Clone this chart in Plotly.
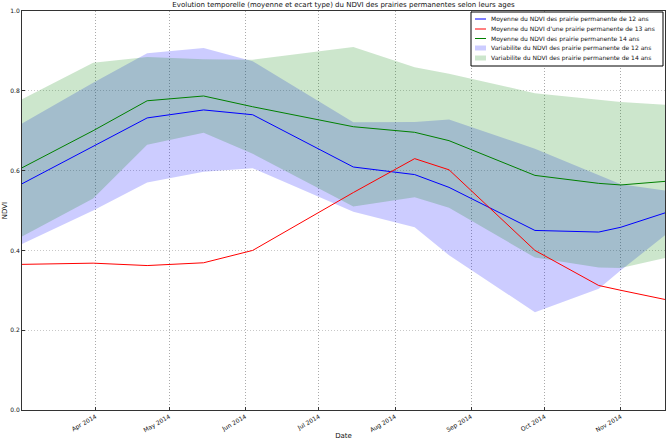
import plotly.graph_objects as go

# ---- data ----
dates = ["2014-03-02", "2014-03-31", "2014-04-22", "2014-05-15", "2014-06-04",
         "2014-07-15", "2014-08-09", "2014-08-23", "2014-09-27", "2014-10-23",
         "2014-11-01", "2014-11-19"]
mean_12 = [0.567, 0.660, 0.732, 0.752, 0.740, 0.609, 0.590, 0.558, 0.450, 0.446, 0.458, 0.494]
std_12 = [0.151, 0.160, 0.162, 0.155, 0.134, 0.112, 0.132, 0.170, 0.205, 0.142, 0.108, 0.056]
mean_13 = [0.365, 0.368, 0.362, 0.369, 0.400, 0.545, 0.630, 0.602, 0.400, 0.312, 0.300, 0.277]
mean_14 = [0.607, 0.700, 0.775, 0.787, 0.760, 0.710, 0.696, 0.675, 0.588, 0.568, 0.564, 0.573]
std_14 = [0.172, 0.170, 0.110, 0.092, 0.118, 0.200, 0.163, 0.168, 0.206, 0.211, 0.208, 0.192]

tick_dates = ["2014-04-01", "2014-05-01", "2014-06-01", "2014-07-01",
              "2014-08-01", "2014-09-01", "2014-10-01", "2014-11-01"]
tick_labels = ["Apr 2014", "May 2014", "Jun 2014", "Jul 2014",
               "Aug 2014", "Sep 2014", "Oct 2014", "Nov 2014"]
y_ticks = [0.0, 0.2, 0.4, 0.6, 0.8, 1.0]

legend_labels = [
    "Moyenne du NDVI des prairie permanente de 12 ans",
    "Moyenne du NDVI d'une prairie permanente de 13 ans",
    "Moyenne du NDVI des prairie permanente 14 ans",
    "Variabilite du NDVI des prairie permanente de 12 ans",
    "Variabilite du NDVI des prairie permanente de 14 ans",
]
title_text = "Evolution temporelle (moyenne et ecart type) du NDVI des prairies permanentes selon leurs ages"

# ---- styles ----
BLUE = "#0000ff"
RED = "#ff0000"
GREEN = "#008000"
BLUE_FILL = "rgba(0,0,255,0.2)"
GREEN_FILL = "rgba(0,128,0,0.2)"
FONT = "DejaVu Sans"
TXT = "#111111"

W, H = 669, 440
ML, MR, MT, MB = 22, 4, 11, 30

fig = go.Figure()

def band(mean, std, color):
    up = [m + s for m, s in zip(mean, std)]
    lo = [m - s for m, s in zip(mean, std)]
    return go.Scatter(x=dates + dates[::-1], y=up + lo[::-1], fill="toself",
                      fillcolor=color, line=dict(width=0), mode="lines",
                      hoverinfo="skip", showlegend=False)

fig.add_trace(band(mean_12, std_12, BLUE_FILL))
fig.add_trace(band(mean_14, std_14, GREEN_FILL))
fig.add_trace(go.Scatter(x=dates, y=mean_12, mode="lines", line=dict(color=BLUE, width=1), showlegend=False))
fig.add_trace(go.Scatter(x=dates, y=mean_13, mode="lines", line=dict(color=RED, width=1), showlegend=False))
fig.add_trace(go.Scatter(x=dates, y=mean_14, mode="lines", line=dict(color=GREEN, width=1), showlegend=False))

# ---- manual legend (compact, like matplotlib) ----
pw, ph = W - ML - MR, H - MT - MB
def px(x):
    return (x - ML) / pw
def py(y):
    return (H - MB - y) / ph

shapes = [dict(type="rect", xref="paper", yref="paper", x0=px(471), x1=px(663),
               y0=py(66), y1=py(12), fillcolor="white", line=dict(color="black", width=1))]
annotations = []
row_y = [19, 29, 38.5, 48, 58]
swatch_colors = [BLUE, RED, GREEN, BLUE_FILL, GREEN_FILL]
for i, (lab, yy) in enumerate(zip(legend_labels, row_y)):
    if i < 3:
        shapes.append(dict(type="line", xref="paper", yref="paper", x0=px(475), x1=px(486),
                           y0=py(yy), y1=py(yy), line=dict(color=swatch_colors[i], width=1)))
    else:
        shapes.append(dict(type="rect", xref="paper", yref="paper", x0=px(475), x1=px(486),
                           y0=py(yy + 2.5), y1=py(yy - 2.5), fillcolor=swatch_colors[i],
                           line=dict(width=0)))
    annotations.append(dict(text=lab, xref="paper", yref="paper", x=px(489), y=py(yy),
                            xanchor="left", yanchor="middle", showarrow=False,
                            font=dict(family=FONT, size=6, color=TXT)))

fig.update_layout(
    width=W, height=H,
    margin=dict(l=ML, r=MR, t=MT, b=MB),
    paper_bgcolor="white", plot_bgcolor="white",
    title=dict(text=title_text, x=(ML + pw / 2) / W, xanchor="center",
               y=1 - 5 / H, yanchor="middle",
               font=dict(family=FONT, size=7, color=TXT)),
    font=dict(family=FONT, size=6, color=TXT),
    shapes=shapes, annotations=annotations,
    showlegend=False,
)
fig.update_xaxes(
    range=[dates[0], dates[-1]], tickvals=tick_dates, ticktext=tick_labels,
    tickangle=-30, tickfont=dict(family=FONT, size=6, color=TXT),
    showgrid=True, gridcolor="#aaaaaa", griddash="1px,2px", gridwidth=1,
    showline=True, linecolor="#333333", linewidth=1, mirror=True,
    ticks="inside", ticklen=3, tickcolor="#333333",
    title=dict(text="Date", font=dict(family=FONT, size=7, color=TXT), standoff=2),
    automargin=False, zeroline=False,
)
fig.update_yaxes(
    range=[0, 1], tickvals=y_ticks, tickformat=".1f",
    tickfont=dict(family=FONT, size=6, color=TXT),
    showgrid=True, gridcolor="#c8c8c8", griddash="1px,2px", gridwidth=1,
    showline=True, linecolor="#333333", linewidth=1, mirror=True,
    ticks="inside", ticklen=3, tickcolor="#333333",
    title=dict(text="NDVI", font=dict(family=FONT, size=7, color=TXT), standoff=1),
    automargin=False, zeroline=False,
)

fig.write_html("out.html")
